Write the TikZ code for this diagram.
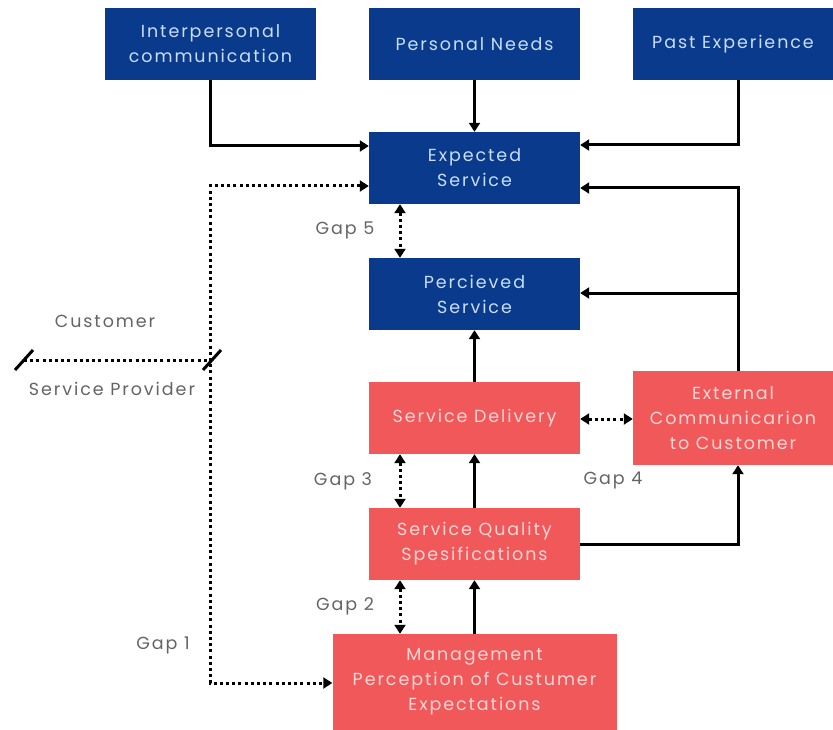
\documentclass[tikz,border=0pt]{standalone}
\usepackage{fontspec}
\setmainfont{Poppins}[LetterSpace=11]
\usetikzlibrary{arrows.meta}
\definecolor{navy}{RGB}{10,58,140}
\definecolor{navytext}{RGB}{200,222,248}
\definecolor{coral}{RGB}{240,88,90}
\definecolor{coraltext}{RGB}{255,214,214}
\definecolor{labelgray}{RGB}{100,100,100}
\tikzset{
  bluebox/.style={fill=navy, text=navytext, minimum width=211pt, minimum height=72pt,
    inner sep=0pt, align=center, font=\fontsize{17.5}{25}\selectfont},
  redbox/.style={fill=coral, text=coraltext, minimum width=211pt, minimum height=72pt,
    inner sep=0pt, align=center, font=\fontsize{17.5}{25}\selectfont},
  gaplabel/.style={text=labelgray, font=\fontsize{17.5}{20}\selectfont},
  arr/.style={line width=3pt, -{Triangle[length=9pt,width=11pt]}},
  dotboth/.style={line width=3pt, dash pattern=on 3pt off 3.2pt,
    {Triangle[length=9pt,width=11pt]}-{Triangle[length=9pt,width=11pt]}},
  dotline/.style={line width=3pt, dash pattern=on 3pt off 3.2pt},
  slash/.style={line width=3pt},
}
\begin{document}
\begin{tikzpicture}[x=1pt,y=-1pt]
\useasboundingbox (0,0) rectangle (833,730);

% customer-side boxes
\node[bluebox] (inter) at (210.5,44) {Interpersonal\\communication};
\node[bluebox] (needs) at (474.5,44) {Personal Needs};
\node[bluebox, minimum width=200pt] (past) at (733,44) {Past Experience};
\node[bluebox] (exp) at (474.5,168) {Expected\\Service};
\node[bluebox] (perc) at (474.5,294) {Percieved\\Service};

% provider-side boxes
\node[redbox] (deliv) at (474.5,418) {Service Delivery};
\node[redbox, minimum width=200pt, minimum height=94pt] (ext) at (733,418) {External\\Communicarion\\to Customer};
\node[redbox] (sqs) at (474.5,544) {Service Quality\\Spesifications};
\node[redbox, minimum width=284pt, minimum height=96pt] (mgmt) at (474.5,682) {Management\\Perception of Custumer\\Expectations};

% solid flows
\draw[arr] (inter.south) |- ([yshift=22pt]exp.west);
\draw[arr] (needs.south) -- (exp.north);
\draw[arr] ([xshift=5pt]past.south) |- ([yshift=23pt]exp.east);
\draw[arr] ([xshift=5pt]ext.north) |- ([yshift=-20pt]exp.east);
\draw[arr] ([xshift=5pt]ext.north) |- ([yshift=1pt]perc.east);
\draw[arr] (deliv.north) -- (perc.south);
\draw[arr] (sqs.north) -- (deliv.south);
\draw[arr] (mgmt.north) -- (sqs.south);
\draw[arr] (sqs.east) -| ([xshift=5pt]ext.south);

% gaps
\draw[dotboth] ([xshift=-74.5pt]exp.south) -- ([xshift=-74.5pt]perc.north);
\draw[dotboth] ([xshift=-74.5pt]deliv.south) -- ([xshift=-74.5pt]sqs.north);
\draw[dotboth] ([xshift=-74.5pt]sqs.south) -- ([xshift=-74.5pt]mgmt.north);
\draw[dotboth] ([yshift=-1pt]deliv.east) -- ([yshift=-1pt]deliv.east -| ext.west);
\coordinate (gapbend) at (210,400);
\draw[dotboth] ([yshift=-18pt]exp.west) -| (gapbend) |- ([yshift=-1pt]mgmt.west);

\node[gaplabel] (g5) at (345,230) {Gap 5};
\node[gaplabel] (g3) at (343,481) {Gap 3};
\node[gaplabel] (g4) at (613,481) {Gap 4};
\node[gaplabel] (g2) at (345,606) {Gap 2};
\node[gaplabel] (g1) at (163,645) {Gap 1};

% customer / provider divide
\coordinate (divL) at (24,360);
\coordinate (divR) at (212,360);
\draw[dotline] (divL) -- (divR);
\draw[slash] ([shift={(-9pt,-10pt)}]divL) -- ([shift={(9pt,10pt)}]divL);
\draw[slash] ([shift={(-9pt,-10pt)}]divR) -- ([shift={(9pt,10pt)}]divR);
\node[gaplabel] (cust) at (105,321) {Customer};
\node[gaplabel] (prov) at (112,389) {Service Provider};
\end{tikzpicture}
\end{document}
